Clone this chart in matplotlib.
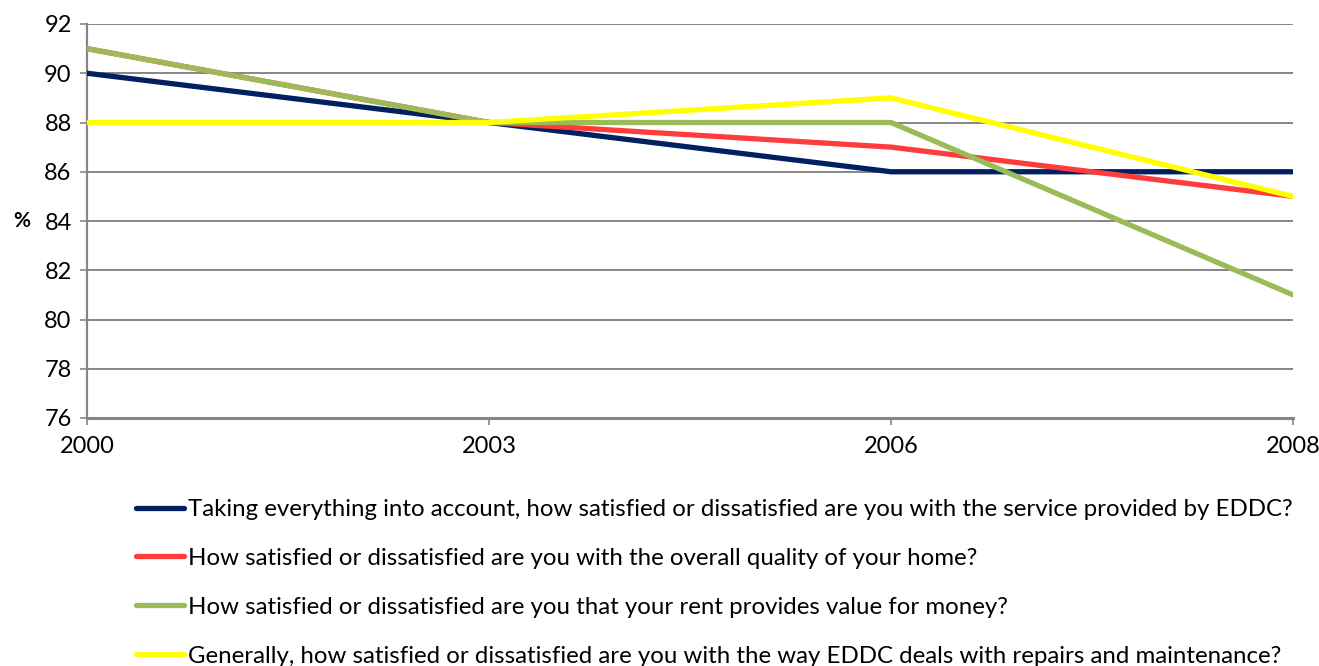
import matplotlib
matplotlib.use("Agg")
import matplotlib.pyplot as plt

years = ["2000", "2003", "2006", "2008"]
service = [90, 88, 86, 86]
quality = [91, 88, 87, 85]
value = [91, 88, 88, 81]
repairs = [88, 88, 89, 85]
labels = [
    "Taking everything into account, how satisfied or dissatisfied are you with the service provided by EDDC?",
    "How satisfied or dissatisfied are you with the overall quality of your home?",
    "How satisfied or dissatisfied are you that your rent provides value for money?",
    "Generally, how satisfied or dissatisfied are you with the way EDDC deals with repairs and maintenance?",
]
colors = ["#002060", "#FF3B3B", "#9BBB59", "#FFFF00"]
yticks = [76, 78, 80, 82, 84, 86, 88, 90, 92]

plt.rcParams["font.family"] = ["Lato", "DejaVu Sans"]

fig = plt.figure(figsize=(13.19, 6.66), dpi=100)
ax = fig.add_axes([87/1319, 1-418/666, (1293-87)/1319, (418-24)/666])

x = list(range(len(years)))
for s, c, lab in zip([service, quality, value, repairs], colors, labels):
    ax.plot(x, s, color=c, lw=3.8, solid_capstyle="round", solid_joinstyle="round", label=lab, zorder=3)

ax.set_xlim(0, 3)
ax.set_ylim(76, 92)
ax.set_yticks(yticks)
ax.set_xticks(x)
ax.set_xticklabels(years)
ax.grid(axis="y", color="#868686", lw=1.4, zorder=0)
for sp in ["top", "right"]:
    ax.spines[sp].set_visible(False)
ax.spines["left"].set_color("#868686")
ax.spines["left"].set_linewidth(1.6)
ax.spines["bottom"].set_color("#868686")
ax.spines["bottom"].set_linewidth(2.2)
ax.tick_params(axis="y", direction="out", length=5, width=1.2, color="#868686", labelsize=17, pad=6)
ax.tick_params(axis="x", direction="out", length=5, width=1.2, color="#868686", labelsize=17, pad=8)
ax.set_ylabel("%", rotation=0, fontsize=15, fontweight="bold", labelpad=16, va="center")

leg = ax.legend(loc="upper left", bbox_to_anchor=(136/1319, 1-499/666), bbox_transform=fig.transFigure,
                frameon=False, fontsize=17.3, handlelength=2.0, handletextpad=0.18,
                labelspacing=1.16, borderpad=0, borderaxespad=0)
for h in leg.get_lines():
    h.set_linewidth(3.8)
    h.set_solid_capstyle("round")

fig.savefig("out.png", dpi=100)
